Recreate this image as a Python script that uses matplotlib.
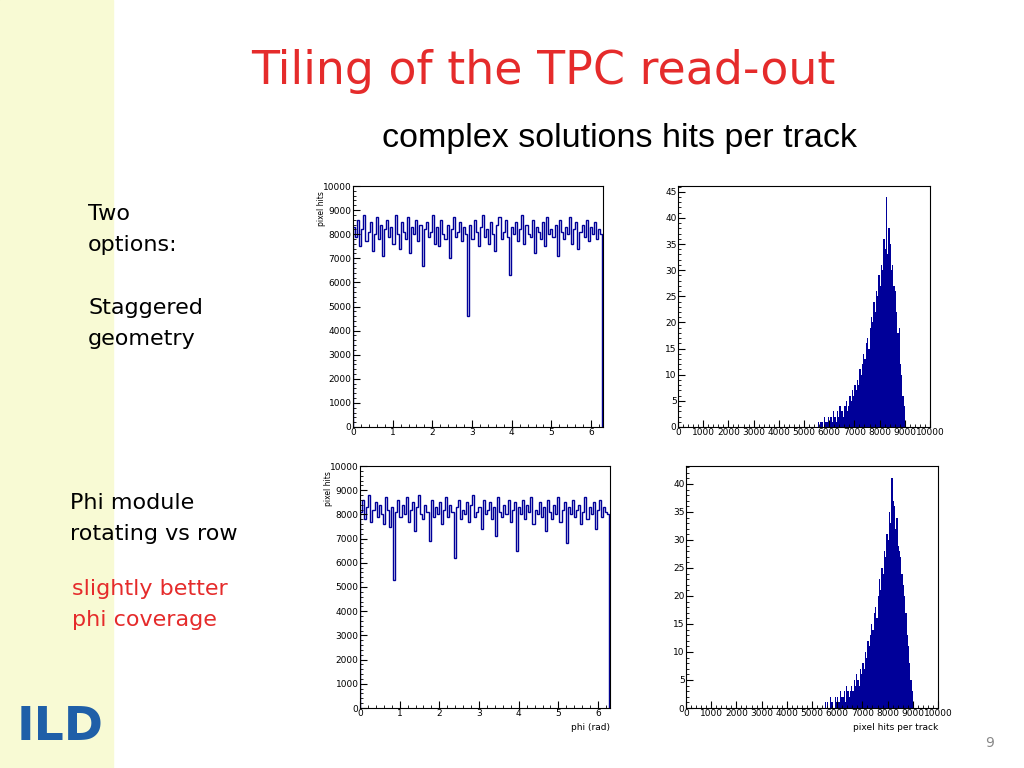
import numpy as np
import matplotlib.pyplot as plt
import matplotlib.patches as mpatches
import matplotlib.ticker as ticker

# phi histograms (pixel hits per phi bin)
top_phi = [8300,7900,8600,7500,8200,8800,7700,8100,8500,7300,8000,8700,7800,8400,7100,8200,8600,7900,8300,7600,
           8800,8000,7400,8500,8100,7800,8700,7200,8300,8000,8600,7700,8400,6700,8200,8500,7900,8100,8800,7600,
           8300,7500,8600,8000,7800,8400,7000,8200,8700,7900,8100,8500,7700,8300,8000,4600,8400,7800,8600,8100,
           7500,8300,8800,7900,8200,7600,8500,8000,7300,8400,8700,7800,8100,8600,7900,6300,8300,8000,8500,7700,
           8200,8800,7600,8400,8000,7900,8600,7200,8300,8100,7800,8500,7500,8700,8000,8200,7900,8400,7100,8600,
           8100,7800,8300,8000,8700,7600,8200,8500,7400,8100,8400,7900,8600,7700,8300,8000,8500,7800,8200,8000]
bot_phi = [8100,8600,7800,8300,8800,7700,8200,8500,7900,8400,8000,7600,8700,8200,7500,8300,5300,8100,8600,7900,
           8400,8000,8700,7700,8200,8500,7300,8300,8800,8000,7800,8400,8100,6900,8600,7900,8300,8000,8500,7600,
           8200,8700,7900,8400,8100,6200,8300,8600,7800,8200,8000,8500,7700,8400,8800,7900,8100,8300,7400,8600,
           8000,8200,8500,7800,8300,7100,8700,8100,7900,8400,8000,8600,7700,8200,8500,6500,8300,8000,8600,7800,
           8400,8100,8700,7600,8200,8000,8500,7900,8300,7300,8600,8100,7800,8400,8000,8700,7700,8200,8500,6800,
           8300,8000,8600,7900,8200,8400,7600,8100,8700,7800,8300,8000,8500,7400,8200,8600,7900,8300,8100,8000]
phi_max = 6.2832

# pixel hits per track distributions, 50-wide bins from 5500
hits_start, hits_width = 5500, 50
top_hits = [0,1,0,1,1,0,2,1,1,2, 1,2,1,3,2,1,3,2,4,3, 3,2,4,5,3,4,6,5,7,6,
            8,7,9,8,11,10,12,14,13,16, 17,15,19,21,20,24,22,26,25,29,
            27,31,30,36,34,44,33,38,35,30, 31,27,26,22,18,19,12,10,6,4, 1]
bot_hits = [1,0,1,0,2,1,1,0,2,1, 2,1,3,2,2,3,1,4,3,2, 3,4,3,5,4,6,5,4,7,6,
            8,7,10,9,12,11,13,15,14,17, 18,16,20,23,21,25,24,28,27,31,
            30,35,33,41,37,36,32,34,29,28, 27,24,22,20,17,13,11,8,5,3, 1]

W, H = 1024, 768
blue = '#000099'
fig = plt.figure(figsize=(W/100, H/100), dpi=100)

def fbox(x0, y0, x1, y1):
    return [x0/W, 1-y1/H, (x1-x0)/W, (y1-y0)/H]

# yellow side strip + corner decoration
fig.patches.append(mpatches.Rectangle((0, 0), 113/W, 1, transform=fig.transFigure,
                                      color='#f8fad4', zorder=0))
deco = fig.add_axes(fbox(0, 0, 113, 92))
deco.set_xlim(0, 113); deco.set_ylim(92, 0); deco.axis('off')
deco.add_patch(mpatches.Rectangle((0, 0), 113, 92, color='#eef3e0'))
for r, c in [(95, '#b8dcb0'), (80, '#cfe8c8'), (60, '#d8e8d0')]:
    deco.add_patch(mpatches.Arc((0, 95), 2*r, 2*r, theta1=270, theta2=360, color=c, lw=2))
deco.plot([40, 92], [20, 74], color='#e05050', lw=1)
deco.add_patch(mpatches.Circle((95, 74), 10, fill=False, color='#b0c8a0', lw=1.5))
deco.add_patch(mpatches.Circle((95, 74), 4, fill=False, color='#c0a0c0', lw=1))

fig.text(543/W, 1-72/H, 'Tiling of the TPC read-out', color='#e52b2b', fontsize=33,
         ha='center', va='center')
fig.text(620/W, 1-138/H, 'complex solutions hits per track', fontsize=24.5,
         ha='center', va='center', family='Liberation Sans')

fig.text(88/W, 1-204/H, 'Two\noptions:\n\nStaggered\ngeometry', fontsize=16,
         ha='left', va='top', linespacing=1.7)
fig.text(70/W, 1-493/H, 'Phi module\nrotating vs row', fontsize=16,
         ha='left', va='top', linespacing=1.7)
fig.text(72/W, 1-579/H, 'slightly better\nphi coverage', fontsize=16, color='#e52b2b',
         ha='left', va='top', linespacing=1.7)
fig.text(60/W, 1-728/H, 'ILD', fontsize=34, color='#1f5fa8', weight='bold',
         ha='center', va='center')
fig.text(990/W, 1-743/H, '9', fontsize=10, color='#888888', ha='center', va='center')

def style(ax):
    ax.tick_params(which='both', direction='in', labelsize=6.5, pad=1, length=5)
    ax.tick_params(which='minor', length=2.5)

def phi_plot(box, vals, xlabel):
    ax = fig.add_axes(fbox(*box))
    edges = np.linspace(0, phi_max, len(vals) + 1)
    ax.stairs(vals, edges, color=blue, lw=1.0)
    ax.set_xlim(0, 6.3); ax.set_ylim(0, 10000)
    ax.xaxis.set_major_locator(ticker.MultipleLocator(1))
    ax.xaxis.set_minor_locator(ticker.MultipleLocator(0.2))
    ax.yaxis.set_major_locator(ticker.MultipleLocator(1000))
    ax.yaxis.set_minor_locator(ticker.MultipleLocator(200))
    style(ax)
    ax.text(-0.125, 0.98, 'pixel hits', rotation=90, transform=ax.transAxes,
            fontsize=5.5, ha='center', va='top')
    if xlabel:
        ax.text(1.0, -0.06, xlabel, transform=ax.transAxes, fontsize=6.5, ha='right', va='top')

def hits_plot(box, vals, ymax, xlabel):
    ax = fig.add_axes(fbox(*box))
    edges = hits_start + hits_width * np.arange(len(vals) + 1)
    ax.stairs(vals, edges, color=blue, fill=True)
    ax.set_xlim(0, 10000); ax.set_ylim(0, ymax)
    ax.xaxis.set_major_locator(ticker.MultipleLocator(1000))
    ax.xaxis.set_minor_locator(ticker.MultipleLocator(200))
    ax.yaxis.set_major_locator(ticker.MultipleLocator(5))
    ax.yaxis.set_minor_locator(ticker.MultipleLocator(1))
    style(ax)
    if xlabel:
        ax.text(1.0, -0.06, xlabel, transform=ax.transAxes, fontsize=6.5, ha='right', va='top')

phi_plot((353, 186, 603, 427), top_phi, None)
hits_plot((678, 186, 930, 427), top_hits, 46.1, None)
phi_plot((360, 466, 610, 708), bot_phi, 'phi (rad)')
hits_plot((686, 466, 938, 708), bot_hits, 43.2, 'pixel hits per track')

plt.savefig('out.png', dpi=100)
